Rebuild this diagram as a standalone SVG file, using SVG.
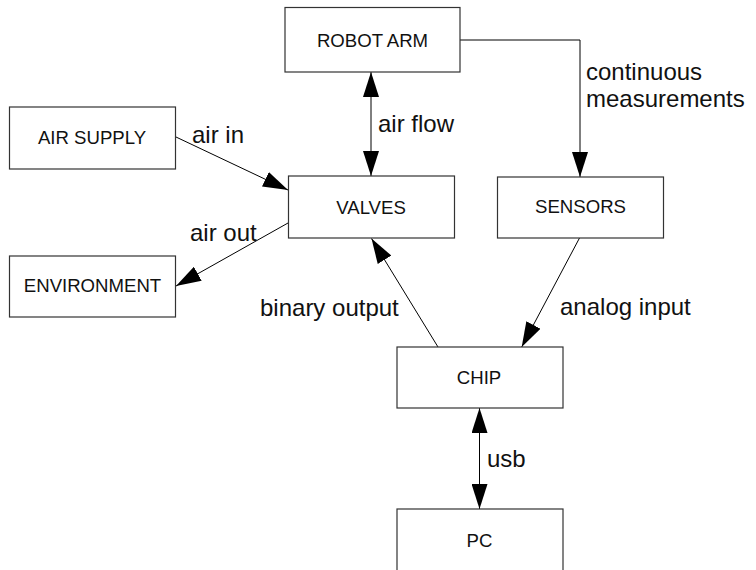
<svg xmlns="http://www.w3.org/2000/svg" width="756" height="570" viewBox="0 0 756 570">
<style>
.box{fill:#fff;stroke:#333;stroke-width:1.2}
.nt{font-family:"Liberation Sans",Arial,sans-serif;font-size:18.6px;fill:#111;text-anchor:middle}
.el{font-family:"Liberation Sans",Arial,sans-serif;font-size:24px;fill:#111}
.c{fill:none;stroke:#000;stroke-width:1}
</style>
<defs>
<marker id="ah" markerUnits="userSpaceOnUse" markerWidth="25" markerHeight="16" refX="25" refY="8" orient="auto-start-reverse" viewBox="0 0 25 16">
<path d="M0,0 L25,8 L0,16 Z" fill="#000"/>
</marker>
</defs>
<rect width="756" height="570" fill="#fff"/>
<g id="connectors">
<line class="c" x1="371" y1="72" x2="371" y2="176" marker-start="url(#ah)" marker-end="url(#ah)"/>
<path class="c" d="M460,40 H580 V177" marker-end="url(#ah)"/>
<line class="c" x1="176" y1="137" x2="288" y2="190" marker-end="url(#ah)"/>
<line class="c" x1="288" y1="223" x2="176" y2="286" marker-end="url(#ah)"/>
<line class="c" x1="438" y1="347" x2="371.5" y2="238.5" marker-end="url(#ah)"/>
<line class="c" x1="579.5" y1="238" x2="521.7" y2="347" marker-end="url(#ah)"/>
<line class="c" x1="479.5" y1="408" x2="479.5" y2="509" marker-start="url(#ah)" marker-end="url(#ah)"/>
<text class="el" x="378" y="132">air flow</text>
<text class="el" x="586" y="80">continuous</text>
<text class="el" x="586" y="107">measurements</text>
<text class="el" x="192" y="143">air in</text>
<text class="el" x="190" y="241">air out</text>
<text class="el" x="260" y="316">binary output</text>
<text class="el" x="560" y="315">analog input</text>
<text class="el" x="487" y="467">usb</text>
</g>
<g id="robot-arm"><rect class="box" x="285" y="7.5" width="175" height="64.5"/><text class="nt" x="372.5" y="47">ROBOT ARM</text></g>
<g id="air-supply"><rect class="box" x="9.5" y="107" width="166" height="62"/><text class="nt" x="92" y="144">AIR SUPPLY</text></g>
<g id="valves"><rect class="box" x="288.5" y="176" width="166" height="62"/><text class="nt" x="371" y="214">VALVES</text></g>
<g id="environment"><rect class="box" x="9.5" y="256" width="166" height="61"/><text class="nt" x="92.5" y="292">ENVIRONMENT</text></g>
<g id="sensors"><rect class="box" x="497.5" y="177" width="166" height="61"/><text class="nt" x="580.5" y="213">SENSORS</text></g>
<g id="chip"><rect class="box" x="397" y="347" width="166" height="61"/><text class="nt" x="479" y="384">CHIP</text></g>
<g id="pc"><rect class="box" x="397" y="509" width="166" height="62"/><text class="nt" x="479.5" y="547">PC</text></g>
</svg>
